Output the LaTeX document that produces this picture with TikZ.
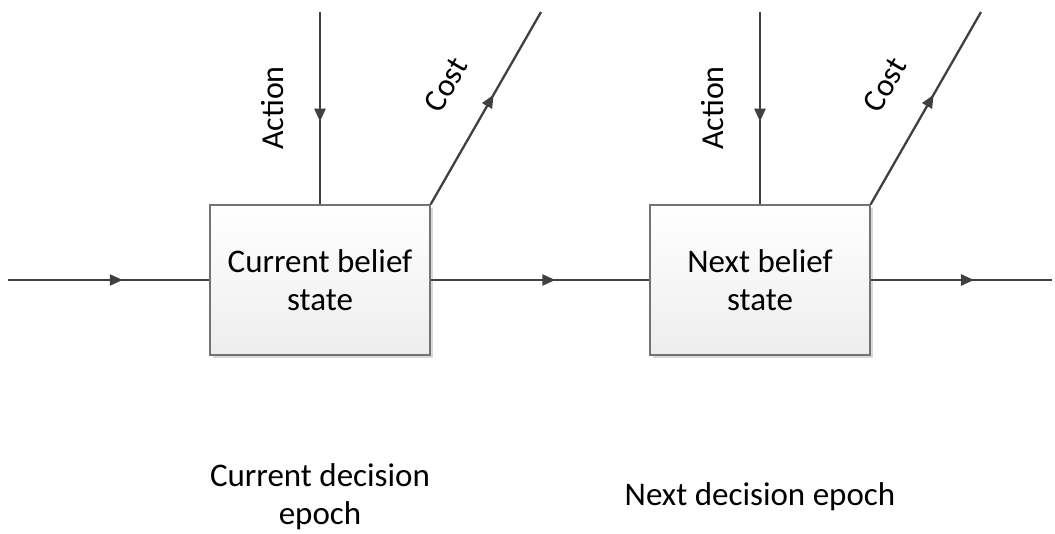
\documentclass[tikz,border=0pt]{standalone}
\usepackage{fontspec}
\setmainfont{Carlito}
\usetikzlibrary{decorations.markings,arrows.meta,shadows}
\begin{document}
\begin{tikzpicture}[x=1pt,y=-1pt,
  conn/.style={draw=black!75, line width=2.3pt, postaction={decorate},
    decoration={markings, mark=at position 0.57 with {\arrow{Triangle[length=13pt,width=11pt]}}}},
  belief/.style={draw=black!55, line width=1.3pt, minimum width=220pt, minimum height=150pt,
    top color=white, bottom color=black!7,
    drop shadow={shadow xshift=3pt, shadow yshift=-3pt, fill=black!15, opacity=1},
    font=\fontsize{33}{38}\selectfont, align=center},
  lbl/.style={font=\fontsize{32}{38}\selectfont, align=center},
  epochlbl/.style={font=\fontsize{33}{38}\selectfont, align=center, inner sep=0pt}]
\useasboundingbox (0,0) rectangle (1055,534);
\node[belief] (b1) at (320,280) {Current belief\\state};
\node[belief] (b2) at (760,280) {Next belief\\state};
\coordinate (in) at (8,280);
\coordinate (out) at (1052,280);
\coordinate (a1) at (320,12);
\coordinate (a2) at (760,12);
\coordinate (c1) at (541,12);
\coordinate (c2) at (981,12);
\draw[conn] (in) -- (b1.west);
\draw[conn] (b1.east) -- (b2.west);
\draw[conn] (b2.east) -- (out);
\draw[conn] (a1) -- (b1.north);
\draw[conn] (a2) -- (b2.north);
\draw[conn] (b1.north east) -- (c1);
\draw[conn] (b2.north east) -- (c2);
\node[lbl, rotate=90] (act1) at (273,108) {Action};
\node[lbl, rotate=90] (act2) at (713,108) {Action};
\node[lbl, rotate=60] (cost1) at (446,85) {Cost};
\node[lbl, rotate=60] (cost2) at (885,85) {Cost};
\node[epochlbl] (e1) at (320,497) {Current decision\\epoch};
\node[epochlbl] (e2) at (760,497) {Next decision epoch};
\end{tikzpicture}
\end{document}
